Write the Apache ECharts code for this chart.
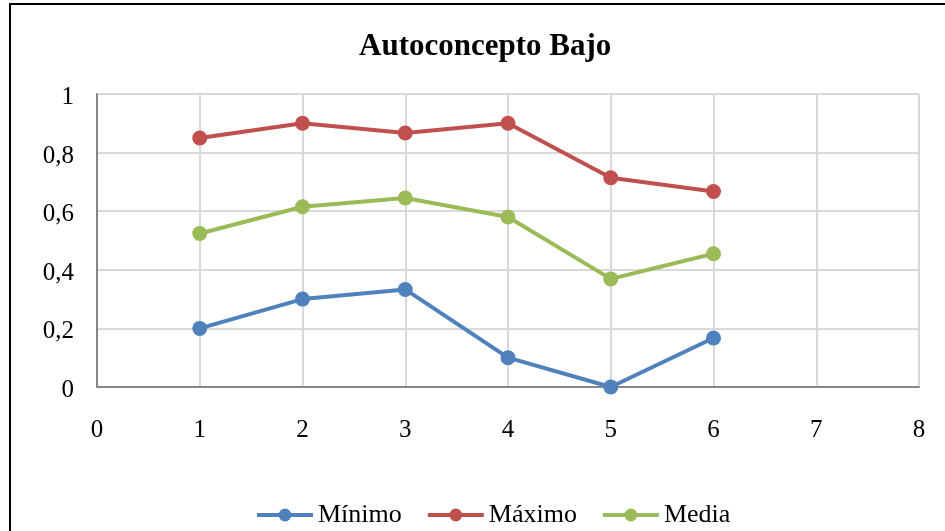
<!DOCTYPE html>
<html>
<head>
<meta charset="utf-8">
<script src="https://cdn.jsdelivr.net/npm/echarts@6/dist/echarts.min.js"></script>
<style>
  html, body { margin: 0; padding: 0; background: #fff; }
  #wrap { position: relative; width: 945px; height: 531px; overflow: hidden; }
  #chart { position: absolute; left: 0; top: 0; width: 945px; height: 531px; }
  #frame { position: absolute; left: 9px; top: 3px; width: 960px; height: 560px;
           border-left: 2.5px solid #000; border-top: 2.5px solid #000; pointer-events: none; }
</style>
</head>
<body>
<div id="wrap">
  <div id="chart"></div>
  <div id="frame"></div>
</div>
<script>
// Scores per group (x = 1..6)
const groups  = [1, 2, 3, 4, 5, 6];
const minimo  = [0.2, 0.3, 0.333, 0.1, 0.0, 0.167];
const maximo  = [0.85, 0.9, 0.867, 0.9, 0.714, 0.667];
const media   = [0.524, 0.615, 0.645, 0.58, 0.369, 0.455];
const seriesNames = ['Mínimo', 'Máximo', 'Media'];
const colors  = ['#4f81bd', '#c0504d', '#9bbb59'];

const font = 'Liberation Serif, Times New Roman, serif';
const pairs = arr => groups.map((g, i) => [g, arr[i]]);

const chart = echarts.init(document.getElementById('chart'), null, { renderer: 'canvas' });
chart.setOption({
  animation: false,
  title: {
    text: 'Autoconcepto Bajo',
    left: 354,
    top: 26,
    textStyle: { fontFamily: font, fontWeight: 'bold', fontSize: 31, color: '#000' }
  },
  legend: {
    top: 497,
    left: 250,
    itemWidth: 56,
    itemHeight: 16,
    itemGap: 24,
    textStyle: { fontFamily: font, fontSize: 26, color: '#000' },
    lineStyle: { width: 4 },
    data: seriesNames
  },
  grid: { left: 97, right: 26, top: 94, bottom: 144 },
  xAxis: {
    type: 'value', min: 0, max: 8, interval: 1,
    axisLine: { show: true, onZero: false, lineStyle: { color: '#868686', width: 2 } },
    axisTick: { show: false },
    axisLabel: { fontFamily: font, fontSize: 25, color: '#000', margin: 31 },
    splitLine: { show: true, lineStyle: { color: '#d9d9d9', width: 2 } }
  },
  yAxis: {
    type: 'value', min: 0, max: 1, interval: 0.2,
    axisLine: { show: true, lineStyle: { color: '#868686', width: 2 } },
    axisTick: { show: false },
    axisLabel: {
      fontFamily: font, fontSize: 25, color: '#000', margin: 23,
      verticalAlign: 'top', lineHeight: 7,
      formatter: v => String(Math.round(v * 10) / 10).replace('.', ',')
    },
    splitLine: { show: true, lineStyle: { color: '#d9d9d9', width: 2 } }
  },
  series: [minimo, maximo, media].map((arr, i) => ({
    name: seriesNames[i],
    type: 'line',
    data: pairs(arr),
    symbol: 'circle',
    symbolSize: 15,
    lineStyle: { width: 4, color: colors[i] },
    itemStyle: { color: colors[i] },
    z: 3 + i
  }))
});
</script>
</body>
</html>
